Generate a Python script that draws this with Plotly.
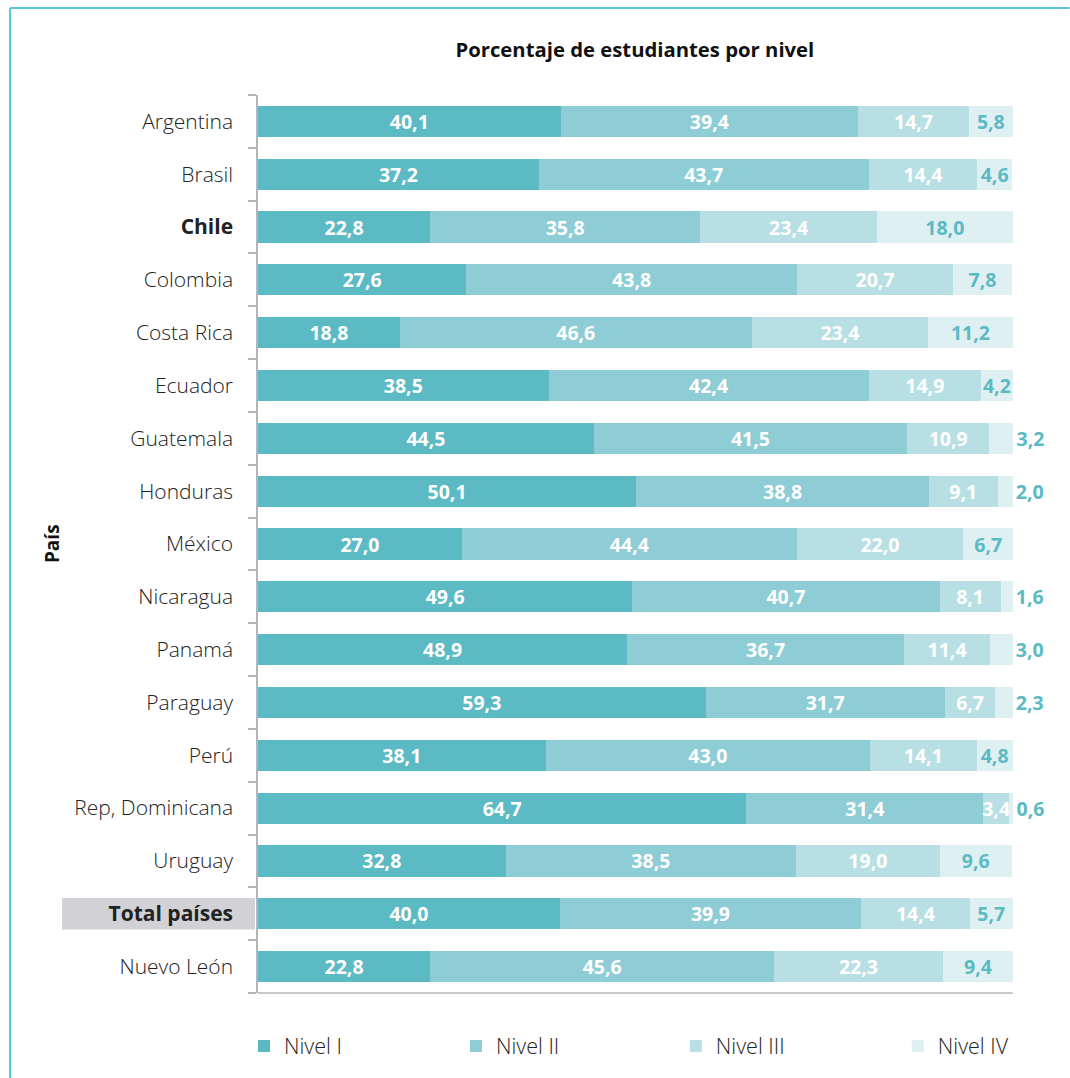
import plotly.graph_objects as go

paises = ["Argentina", "Brasil", "Chile", "Colombia", "Costa Rica", "Ecuador",
          "Guatemala", "Honduras", "México", "Nicaragua", "Panamá", "Paraguay",
          "Perú", "Rep, Dominicana", "Uruguay", "Total países", "Nuevo León"]
etiquetas = ["Argentina", "Brasil", "<b>Chile</b>", "Colombia", "Costa Rica", "Ecuador",
             "Guatemala", "Honduras", "México", "Nicaragua", "Panamá", "Paraguay",
             "Perú", "Rep, Dominicana", "Uruguay", "<b>Total países</b>", "Nuevo León"]

nivel_1 = [40.1, 37.2, 22.8, 27.6, 18.8, 38.5, 44.5, 50.1, 27.0, 49.6, 48.9, 59.3, 38.1, 64.7, 32.8, 40.0, 22.8]
nivel_2 = [39.4, 43.7, 35.8, 43.8, 46.6, 42.4, 41.5, 38.8, 44.4, 40.7, 36.7, 31.7, 43.0, 31.4, 38.5, 39.9, 45.6]
nivel_3 = [14.7, 14.4, 23.4, 20.7, 23.4, 14.9, 10.9, 9.1, 22.0, 8.1, 11.4, 6.7, 14.1, 3.4, 19.0, 14.4, 22.3]
nivel_4 = [5.8, 4.6, 18.0, 7.8, 11.2, 4.2, 3.2, 2.0, 6.7, 1.6, 3.0, 2.3, 4.8, 0.6, 9.6, 5.7, 9.4]

series = [("Nivel I", nivel_1, "#5bbac4"),
          ("Nivel II", nivel_2, "#8ecdd5"),
          ("Nivel III", nivel_3, "#b8dfe3"),
          ("Nivel IV", nivel_4, "#dff0f2")]

FONT = "Open Sans"
TEAL = "#5bbac4"
GREY = "#b4b4bc"
XMAX = 100.3
PLOT_W = 755 * XMAX / 100
LEGEND_SWATCH_LEFT = [258, 470, 690, 912]

def fmt(v):
    return f"{v:.1f}".replace(".", ",")

def px_x(p):
    return (p - 258) / PLOT_W

def px_y(p):
    return (993 - p) / 898

legend_ids = ["legend", "legend2", "legend3", "legend4"]

fig = go.Figure()
for i, (name, vals, color) in enumerate(series):
    last = name == "Nivel IV"
    positions = [("outside" if (last and v < 4) else "inside") for v in vals]
    fig.add_trace(go.Bar(
        y=paises, x=vals, name=name, orientation="h",
        legend=legend_ids[i],
        marker=dict(color=color, line=dict(width=0)),
        text=[fmt(v) for v in vals],
        textposition=positions,
        insidetextanchor="middle",
        textangle=0,
        constraintext="none",
        cliponaxis=False,
        textfont=dict(family=FONT, size=19.5, color=TEAL if last else "white", weight="bold"),
        outsidetextfont=dict(family=FONT, size=19.5, color=TEAL, weight="bold"),
        hoverinfo="skip",
    ))

legend_style = dict(orientation="h", xanchor="left", y=px_y(1046), yanchor="middle",
                    bgcolor="rgba(0,0,0,0)", borderwidth=0,
                    font=dict(family=FONT, size=21.5, color="#222", weight=300))
legends = {}
for i, lid in enumerate(legend_ids):
    legends[lid] = dict(legend_style, x=px_x(LEGEND_SWATCH_LEFT[i] - 14))

fig.update_layout(
    barmode="stack",
    bargap=0.41,
    width=1070, height=1078,
    margin=dict(l=258, r=1070 - 258 - PLOT_W, t=95, b=85),
    paper_bgcolor="white", plot_bgcolor="white",
    font=dict(family=FONT, color="#222"),
    title=dict(text="<b>Porcentaje de estudiantes por nivel</b>",
               x=px_x(635), xref="paper", xanchor="center",
               y=1 - 50 / 1078, yref="container", yanchor="middle",
               font=dict(family=FONT, size=20.3, color="#111")),
    xaxis=dict(range=[0, XMAX], showticklabels=False, showgrid=False, zeroline=False,
               showline=False, ticks=""),
    yaxis=dict(autorange="reversed", categoryorder="array", categoryarray=paises,
               tickmode="array", tickvals=paises, ticktext=etiquetas,
               tickson="boundaries", ticks="outside", ticklen=8, tickcolor=GREY, tickwidth=1.5,
               showline=True, linecolor=GREY, linewidth=1.5, showgrid=False,
               ticklabelstandoff=19,
               tickfont=dict(family=FONT, size=21, color="#222", weight=300)),
    showlegend=True,
    annotations=[dict(text="<b>País</b>", textangle=-90, xref="paper", yref="paper",
                      x=px_x(52), y=0.5, xanchor="center", yanchor="middle",
                      showarrow=False, font=dict(family=FONT, size=19, color="#111"))],
    shapes=[
        dict(type="rect", xref="paper", yref="y", x0=px_x(62), x1=px_x(255),
             y0=15 - 0.3, y1=15 + 0.3, fillcolor="#d1d1d6", line=dict(width=0), layer="below"),
        dict(type="line", xref="paper", yref="paper", x0=0, x1=px_x(1013),
             y0=0, y1=0, line=dict(color=GREY, width=1.5)),
        dict(type="line", xref="paper", yref="paper", x0=px_x(10), x1=px_x(1070),
             y0=px_y(8), y1=px_y(8), line=dict(color="#5bc4d0", width=2)),
        dict(type="line", xref="paper", yref="paper", x0=px_x(10), x1=px_x(10),
             y0=px_y(8), y1=px_y(1078), line=dict(color="#5bc4d0", width=2)),
    ],
    **legends,
)

fig.write_html("out.html")
